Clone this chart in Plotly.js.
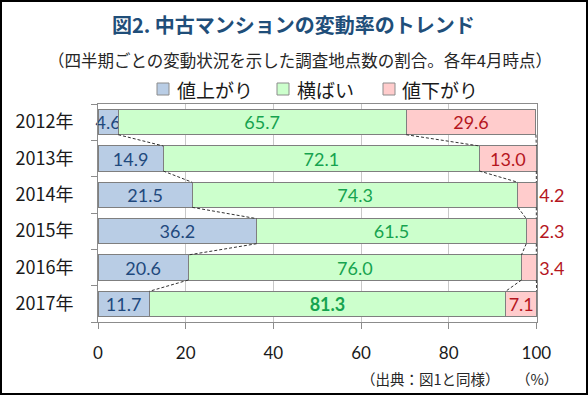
<!DOCTYPE html>
<html>
<head>
<meta charset="utf-8">
<script src="https://cdn.plot.ly/plotly-3.0.1.min.js"></script>
<style>
  html, body { margin: 0; padding: 0; background: #fff; }
  #wrap { position: relative; width: 588px; height: 395px; }
  #chart { position: absolute; left: 0; top: 0; width: 588px; height: 395px; }
  #frame { position: absolute; left: 0; top: 0; width: 588px; height: 395px; box-sizing: border-box; border: 2px solid #000; pointer-events: none; }
</style>
</head>
<body>
<div id="wrap"><div id="chart"></div><div id="frame"></div></div>
<script>
// ---- data ----
const years = ['2012年', '2013年', '2014年', '2015年', '2016年', '2017年'];
const upVals = [4.6, 14.9, 21.5, 36.2, 20.6, 11.7];
const flatVals = [65.7, 72.1, 74.3, 61.5, 76.0, 81.3];
const downVals = [29.6, 13.0, 4.2, 2.3, 3.4, 7.1];
const seriesNames = ['値上がり', '横ばい', '値下がり'];
const xTickVals = [0, 20, 40, 60, 80, 100];
const titleText = '図2. 中古マンションの変動率のトレンド';
const subtitleText = '（四半期ごとの変動状況を示した調査地点数の割合。各年4月時点）';
const sourceText = '（出典：図1と同様）';
const unitText = '（%）';

// ---- styling / layout ----
const W = 588, H = 395;
const L = 98, R = 537, T = 104, B = 322;
const px2x = p => (p - L) / (R - L);
const py2y = p => (B - p) / (B - T);
const fills = ['#b9cde5', '#ccffcc', '#ffcccc'];
const textColors = ['#1f497d', '#16a34f', '#b5161e'];
const barLine = '#7f7f7f';
const barWidth = 0.69;
const numFont = 'Lato, "Open Sans", sans-serif';
const cjk = '"Noto Sans CJK JP", "Noto Sans", sans-serif';
const labelSize = 18;

const idx = years.map((_, i) => i);
const fmt = v => v.toFixed(1);
const lastI = years.length - 1;

const series = [upVals, flatVals, downVals];
const traces = series.map((vals, s) => {
  const text = vals.map((v, i) => (s === 1 && i === lastI) ? '<b>' + fmt(v) + '</b>' : fmt(v));
  const pos = vals.map(v => (s === 2 && v < 5) ? 'outside' : 'inside');
  return {
    type: 'bar', orientation: 'h', name: seriesNames[s],
    x: vals, y: idx, width: barWidth,
    marker: { color: fills[s], line: { color: barLine, width: 1 } },
    text: text, textposition: pos, insidetextanchor: 'middle',
    textangle: 0, cliponaxis: false, constraintext: 'none',
    textfont: { family: numFont, size: labelSize, color: textColors[s] },
    insidetextfont: { family: numFont, size: labelSize, color: textColors[s] },
    outsidetextfont: { family: numFont, size: labelSize, color: textColors[s] },
    hoverinfo: 'skip', showlegend: false
  };
});

// series lines (connectors) between cumulative ends
const cums = [];
let run = years.map(() => 0);
series.forEach(vals => { run = run.map((r, i) => r + vals[i]); cums.push(run.slice()); });
cums.forEach(c => {
  const xs = [], ys = [];
  for (let i = 0; i < c.length - 1; i++) {
    xs.push(c[i], c[i + 1], null);
    ys.push(i + barWidth / 2, i + 1 - barWidth / 2, null);
  }
  traces.push({
    type: 'scatter', mode: 'lines', x: xs, y: ys, yaxis: 'y',
    line: { color: '#333', width: 1, dash: '3px,2px' },
    hoverinfo: 'skip', showlegend: false, cliponaxis: false
  });
});
// dummy trace on y2 to show boundary ticks
traces.push({ type: 'scatter', mode: 'none', x: [0], y: [0], yaxis: 'y2', hoverinfo: 'skip', showlegend: false });

const annotations = [
  { text: titleText, x: px2x(293), y: py2y(24), xref: 'paper', yref: 'paper', xanchor: 'center', yanchor: 'middle', showarrow: false,
    font: { family: cjk, size: 20, color: '#1f4e79', weight: 'bold' } },
  { text: subtitleText, x: px2x(300), y: py2y(60), xref: 'paper', yref: 'paper', xanchor: 'center', yanchor: 'middle', showarrow: false,
    font: { family: cjk, size: 16.5, color: '#262626' } },
  { text: sourceText, x: px2x(430), y: py2y(378), xref: 'paper', yref: 'paper', xanchor: 'center', yanchor: 'middle', showarrow: false,
    font: { family: cjk, size: 14.5, color: '#262626' } },
  { text: unitText, x: px2x(537), y: py2y(378), xref: 'paper', yref: 'paper', xanchor: 'center', yanchor: 'middle', showarrow: false,
    font: { family: cjk, size: 14.5, color: '#262626' } }
];
// custom legend
const legSquares = [157, 277, 383];
const legTextX = [175, 295, 400];
const shapes = [];
seriesNames.forEach((n, s) => {
  shapes.push({ type: 'rect', xref: 'paper', yref: 'paper',
    x0: px2x(legSquares[s]), x1: px2x(legSquares[s] + 12), y0: py2y(95), y1: py2y(83),
    fillcolor: fills[s], line: { color: '#8c8c8c', width: 1 } });
  annotations.push({ text: n, x: px2x(legTextX[s]), y: py2y(89), xref: 'paper', yref: 'paper', xanchor: 'left', yanchor: 'middle',
    showarrow: false, font: { family: cjk, size: 19, color: '#1a1a1a' } });
});

const layout = {
  width: W, height: H,
  margin: { l: L, r: W - R, t: T, b: H - B, pad: 0 },
  paper_bgcolor: '#fff', plot_bgcolor: '#fff',
  barmode: 'stack', showlegend: false,
  uniformtext: { mode: 'show', minsize: labelSize },
  xaxis: {
    range: [0, 100.15], tickvals: xTickVals, ticks: 'outside', ticklen: 6, tickcolor: '#8c8c8c',
    showgrid: true, gridcolor: '#c8c8c8', gridwidth: 1, zeroline: false,
    showline: true, linecolor: '#8c8c8c', linewidth: 1, mirror: true,
    tickfont: { family: numFont, size: 17, color: '#1a1a1a' }, ticklabelstandoff: 10, fixedrange: true
  },
  yaxis: {
    range: [years.length - 0.5, -0.5], tickvals: idx, ticktext: years, ticks: '',
    showgrid: false, zeroline: false, showline: true, linecolor: '#8c8c8c', linewidth: 1, mirror: true,
    tickfont: { family: cjk, size: 18, color: '#1a1a1a' }, ticklabelstandoff: 20, fixedrange: true
  },
  yaxis2: {
    overlaying: 'y', anchor: 'x', side: 'left',
    range: [years.length - 0.5, -0.5], tickvals: idx.concat([years.length]).map(v => v - 0.5),
    ticks: 'outside', ticklen: 6, tickcolor: '#8c8c8c', showticklabels: false,
    showgrid: false, zeroline: false, showline: false, fixedrange: true
  },
  annotations: annotations, shapes: shapes
};

Plotly.newPlot('chart', traces, layout, { staticPlot: true, displayModeBar: false });
</script>
</body>
</html>
